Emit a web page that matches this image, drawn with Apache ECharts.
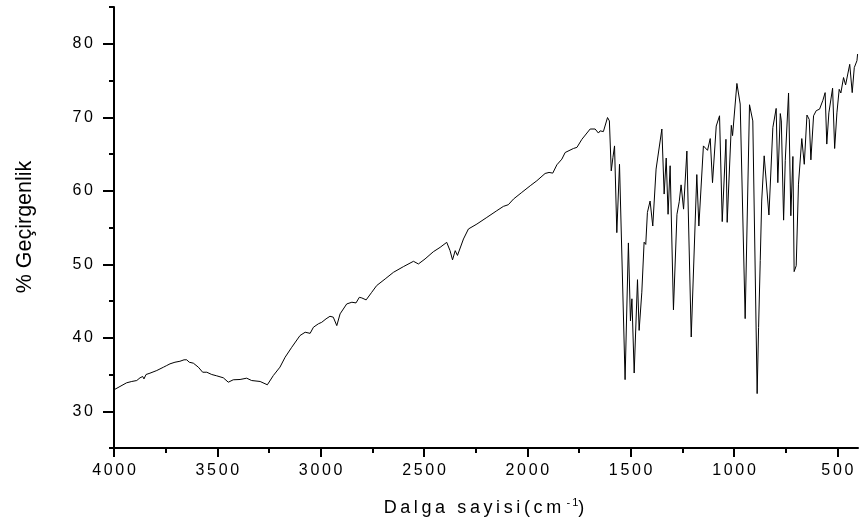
<!DOCTYPE html>
<html>
<head>
<meta charset="utf-8">
<script src="https://cdn.jsdelivr.net/npm/echarts@6/dist/echarts.min.js"></script>
<style>
  html, body { margin: 0; padding: 0; background: #fff; }
  #chart { width: 859px; height: 529px; }
</style>
</head>
<body>
<div id="chart"></div>
<script>
// IR spectrum: wavenumber (cm-1) vs. transmittance (%)
const wavenumbers = [
  4000, 3971, 3939, 3914, 3890, 3874, 3861, 3855, 3845, 3826, 3793, 3761, 3745, 3729, 3705, 3681,
  3661, 3648, 3636, 3616, 3592, 3571, 3551, 3527, 3503, 3471, 3447, 3423, 3390, 3358, 3334, 3293,
  3258, 3229, 3197, 3172, 3140, 3100, 3075, 3051, 3035, 3011, 2995, 2974, 2955, 2939, 2922, 2906,
  2874, 2849, 2829, 2813, 2801, 2780, 2753, 2729, 2688, 2648, 2600, 2551, 2527, 2495, 2455, 2422,
  2390, 2374, 2362, 2349, 2338, 2309, 2285, 2244, 2196, 2148, 2116, 2092, 2067, 2027, 1986, 1954,
  1914, 1895, 1886, 1877, 1857, 1833, 1817, 1777, 1760, 1736, 1696, 1672, 1656, 1648, 1632, 1612,
  1603, 1594, 1586, 1578, 1567, 1554, 1527, 1511, 1501, 1494, 1483, 1467, 1459, 1446, 1435, 1427,
  1419, 1406, 1393, 1377, 1349, 1338, 1328, 1319, 1309, 1293, 1276, 1265, 1256, 1244, 1228, 1207,
  1180, 1170, 1148, 1128, 1115, 1104, 1086, 1070, 1057, 1039, 1033, 1013, 1007, 986, 970, 962,
  946, 925, 909, 888, 881, 873, 866, 854, 831, 812, 796, 788, 776, 771, 760, 752,
  736, 725, 715, 709, 699, 688, 672, 660, 647, 636, 628, 615, 602, 586, 570, 559,
  551, 541, 523, 513, 502, 491, 483, 470, 460, 440, 428, 418, 405, 402
];
const transmittance = [
  32.92, 33.37, 33.87, 34.05, 34.18, 34.55, 34.73, 34.4, 35.0, 35.18, 35.54, 35.99, 36.22, 36.45, 36.67, 36.8,
  37.0, 37.0, 36.67, 36.54, 36.0, 35.31, 35.31, 35.0, 34.82, 34.55, 33.95, 34.28, 34.32, 34.5, 34.18, 34.05,
  33.6, 34.86, 36.0, 37.35, 38.7, 40.3, 40.75, 40.6, 41.43, 41.9, 42.1, 42.57, 42.92, 42.8, 41.65, 43.25,
  44.6, 44.83, 44.74, 45.5, 45.42, 45.15, 46.18, 47.1, 48.0, 48.9, 49.67, 50.4, 50.04, 50.72, 51.7, 52.3,
  52.98, 51.85, 50.6, 51.85, 51.2, 53.44, 54.8, 55.47, 56.37, 57.28, 57.87, 58.1, 58.87, 59.77, 60.68, 61.36,
  62.35, 62.49, 62.27, 62.4, 63.53, 64.3, 65.2, 65.75, 65.9, 67.0, 68.4, 68.4, 67.85, 68.15, 68.05, 69.96,
  69.5, 62.7, 64.5, 66.1, 54.3, 63.6, 34.3, 52.9, 42.3, 45.3, 35.2, 47.9, 41.0, 46.2, 53.0, 52.7,
  57.05, 58.6, 55.2, 62.95, 68.4, 59.55, 64.45, 56.8, 63.4, 43.8, 56.8, 58.5, 60.8, 57.5, 65.4, 40.1,
  62.2, 55.2, 66.1, 65.5, 67.1, 61.1, 68.8, 70.2, 55.8, 67.0, 55.7, 68.9, 67.5, 74.6, 71.8, 71.9,
  42.6, 71.7, 69.5, 32.4, 41.4, 50.5, 58.6, 64.75, 56.7, 68.6, 71.2, 61.1, 70.5, 69.5, 56.0, 64.1,
  73.3, 56.6, 64.66, 49.0, 49.8, 60.9, 67.1, 63.6, 70.3, 69.7, 64.2, 70.2, 70.9, 71.1, 72.3, 73.35,
  66.35, 70.6, 73.95, 65.75, 70.6, 73.8, 73.3, 75.4, 74.4, 77.2, 73.35, 76.75, 77.7, 78.6
];

// Axis ticks
const xMajorTicks = [500, 1000, 1500, 2000, 2500, 3000, 3500, 4000];
const xMinorTicks = [750, 1250, 1750, 2250, 2750, 3250, 3750];
const yMajorTicks = [30, 40, 50, 60, 70, 80];
const yMinorTicks = [25, 35, 45, 55, 65, 75, 85];

const xTitle = 'Dalga sayisi(cm';
const xTitleSup = '-1';
const yTitle = '% Geçirgenlik';

const FONT = '"Liberation Sans", Arial, sans-serif';
// widen the tracking of tick labels and axis titles with narrow spaces
const tracked = (s, gap) => String(s).split('').join(gap);

const chart = echarts.init(document.getElementById('chart'), null, { renderer: 'canvas' });

const axisLineStyle = { color: '#000', width: 2 };

chart.setOption({
  animation: false,
  backgroundColor: '#fff',
  grid: { left: 114, right: 1, top: 7, bottom: 81, containLabel: false },
  xAxis: [
    {
      type: 'value', min: 400, max: 4000, inverse: true, position: 'bottom',
      axisLine: { show: true, onZero: false, lineStyle: axisLineStyle },
      axisTick: { show: true, customValues: xMajorTicks, length: 9, lineStyle: axisLineStyle },
      axisLabel: {
        show: true, customValues: xMajorTicks, margin: 15,
        color: '#000', fontFamily: FONT, fontSize: 16,
        formatter: v => tracked(v, '\u2006')
      },
      splitLine: { show: false }
    },
    {
      type: 'value', min: 400, max: 4000, inverse: true, position: 'bottom', offset: 0,
      axisLine: { show: false, onZero: false },
      axisTick: { show: true, customValues: xMinorTicks, length: 5, lineStyle: axisLineStyle },
      axisLabel: { show: false },
      splitLine: { show: false }
    }
  ],
  yAxis: [
    {
      type: 'value', min: 25, max: 85, position: 'left',
      axisLine: { show: true, onZero: false, lineStyle: axisLineStyle },
      axisTick: { show: true, customValues: yMajorTicks, length: 11, lineStyle: axisLineStyle },
      axisLabel: {
        show: true, customValues: yMajorTicks, margin: 21,
        color: '#000', fontFamily: FONT, fontSize: 16,
        formatter: v => tracked(v, '\u2006')
      },
      splitLine: { show: false }
    },
    {
      type: 'value', min: 25, max: 85, position: 'left', offset: 0,
      axisLine: { show: false, onZero: false },
      axisTick: { show: true, customValues: yMinorTicks, length: 5, lineStyle: axisLineStyle },
      axisLabel: { show: false },
      splitLine: { show: false }
    }
  ],
  series: [
    {
      type: 'line',
      xAxisIndex: 0, yAxisIndex: 0,
      data: wavenumbers.map((w, i) => [w, transmittance[i]]),
      showSymbol: false,
      symbol: 'none',
      smooth: false,
      lineStyle: { color: '#000', width: 1 },
      silent: true
    }
  ],
  graphic: [
    {
      type: 'text',
      x: 484, y: 508,
      style: {
        text: '{a|' + tracked(xTitle, '\u2009') + '}{s|\u2009 ' + tracked(xTitleSup, '\u2009') + '}{a|)}',
        align: 'center', verticalAlign: 'middle',
        rich: {
          a: { fontFamily: FONT, fontSize: 18, fill: '#000', color: '#000' },
          s: { fontFamily: FONT, fontSize: 11, fill: '#000', color: '#000', padding: [0, 0, 10, 0] }
        }
      }
    },
    {
      type: 'text',
      x: 25, y: 227,
      rotation: Math.PI / 2,
      style: {
        text: yTitle,
        font: '21.5px ' + FONT,
        fill: '#000',
        align: 'center', verticalAlign: 'middle'
      }
    }
  ]
});
</script>
</body>
</html>
